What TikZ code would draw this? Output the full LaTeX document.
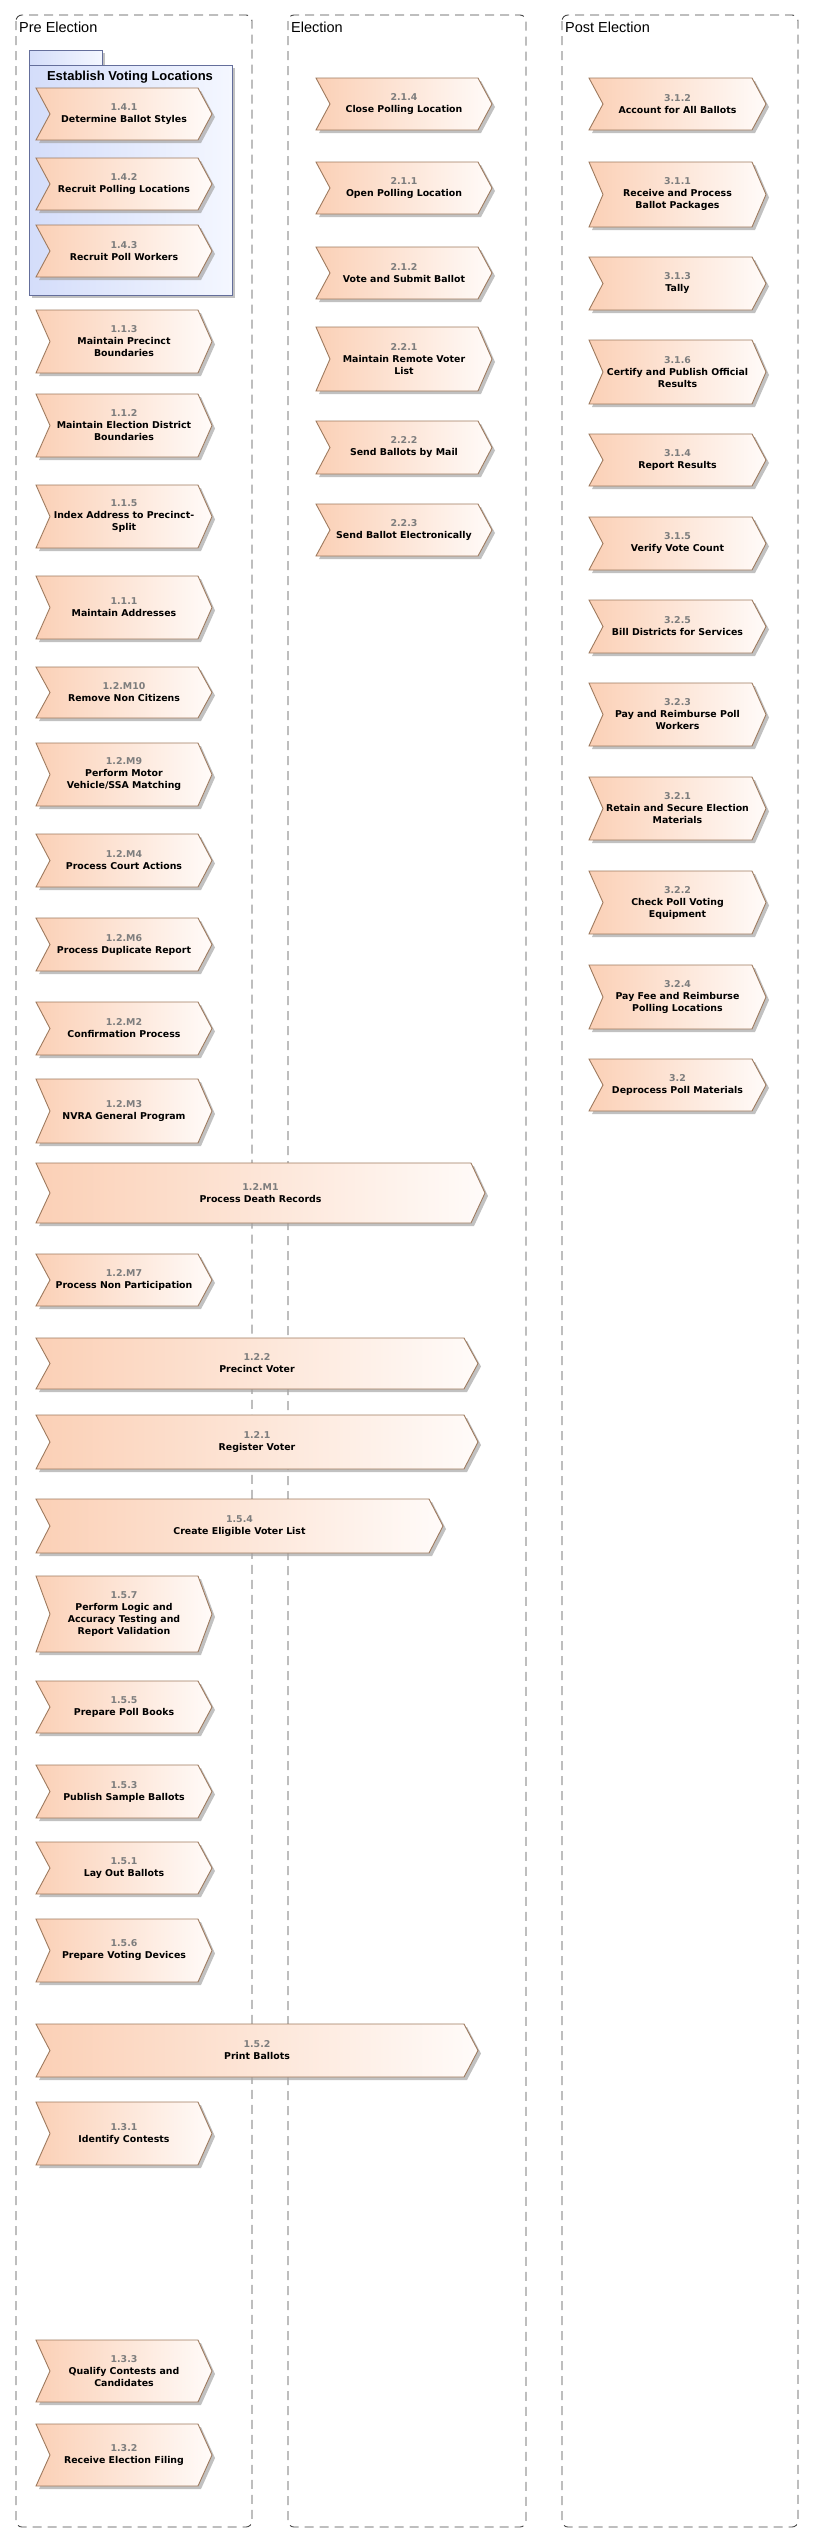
\documentclass[tikz,border=0pt]{standalone}
\usepackage{fontspec}
\newfontfamily\chevfont{DejaVu Sans}
\newfontfamily\lanefont{Liberation Sans}

\definecolor{chevpeach}{RGB}{251,208,182}
\definecolor{chevwhite}{RGB}{255,251,249}
\definecolor{chevline}{RGB}{158,122,94}
\definecolor{numgray}{RGB}{125,125,125}
\definecolor{pkgblue}{RGB}{212,221,250}
\definecolor{pkglight}{RGB}{244,247,255}
\definecolor{pkgline}{RGB}{100,110,155}
\definecolor{laneline}{RGB}{70,70,70}

\tikzset{
  chevbox/.style={draw=chevline, line width=0.9pt, left color=chevpeach, right color=chevwhite},
  chevshadow/.style={fill=black!35, opacity=0.7},
  chevtext/.style={align=center, inner sep=0pt, font=\chevfont\bfseries\fontsize{9.4}{12}\selectfont},
  lane/.style={draw=laneline, line width=0.9pt, dash pattern=on 9pt off 6pt, rounded corners=6pt},
  lanetitle/.style={anchor=base west, inner sep=0pt, font=\lanefont\fontsize{14.5}{17}\selectfont},
  pkgbox/.style={draw=pkgline, line width=0.8pt, shading=axis, shading angle=45, left color=pkgblue, right color=pkglight},
}

% name, left, right, top, bottom, number, label
\newcommand{\chevproc}[7]{%
  \fill [chevshadow, shift={(3,3)}] (#2,#4) -- ({#3-14},#4) -- (#3,{(#4+#5)/2}) -- ({#3-14},#5) -- (#2,#5) -- ({#2+14},{(#4+#5)/2}) -- cycle;
  \draw [chevbox] (#2,#4) -- ({#3-14},#4) -- (#3,{(#4+#5)/2}) -- ({#3-14},#5) -- (#2,#5) -- ({#2+14},{(#4+#5)/2}) -- cycle;
  \node [chevtext] (#1) at ({(#2+#3)/2},{(#4+#5)/2}) {{\color{numgray}#6}\\#7};
}

\begin{document}
\begin{tikzpicture}[x=1pt, y=-1pt]
      \useasboundingbox (0,0) rectangle (814,2543);
      % lanes
      \draw [lane] (16,15) rectangle (252,2527);
      \draw [lane] (288,15) rectangle (526,2527);
      \draw [lane] (562,15) rectangle (798,2527);
      \node [lanetitle] (preti) at (19,32) {Pre Election};
      \node [lanetitle] (electi) at (291,32) {Election};
      \node [lanetitle] (postti) at (565,32) {Post Election};
      % package
      \fill [chevshadow] (32,53) rectangle (105,68);
      \fill [chevshadow] (32,68) rectangle (235,298);
      \draw [pkgbox] (29,50) rectangle (102,65);
      \draw [pkgbox] (29,65) rectangle (232,295);
      \node [anchor=base, inner sep=0pt, font=\lanefont\bfseries\fontsize{13}{15}\selectfont] (pkgti) at (130,80) {Establish Voting Locations};
      % Pre Election
      \chevproc{a141}{36}{212}{88}{140}{1.4.1}{Determine Ballot Styles}
      \chevproc{a142}{36}{212}{158}{210}{1.4.2}{Recruit Polling Locations}
      \chevproc{a143}{36}{212}{225}{277}{1.4.3}{Recruit Poll Workers}
      \chevproc{a113}{36}{212}{310}{373}{1.1.3}{Maintain Precinct\\Boundaries}
      \chevproc{a112}{36}{212}{394}{457}{1.1.2}{Maintain Election District\\Boundaries}
      \chevproc{a115}{36}{212}{485}{548}{1.1.5}{Index Address to Precinct-\\Split}
      \chevproc{a111}{36}{212}{576}{639}{1.1.1}{Maintain Addresses}
      \chevproc{a12M10}{36}{212}{667}{718}{1.2.M10}{Remove Non Citizens}
      \chevproc{a12M9}{36}{212}{743}{806}{1.2.M9}{Perform Motor\\Vehicle/SSA Matching}
      \chevproc{a12M4}{36}{212}{834}{887}{1.2.M4}{Process Court Actions}
      \chevproc{a12M6}{36}{212}{918}{971}{1.2.M6}{Process Duplicate Report}
      \chevproc{a12M2}{36}{212}{1002}{1055}{1.2.M2}{Confirmation Process}
      \chevproc{a12M3}{36}{212}{1079}{1143}{1.2.M3}{NVRA General Program}
      \chevproc{a12M1}{36}{485}{1163}{1223}{1.2.M1}{Process Death Records}
      \chevproc{a12M7}{36}{212}{1254}{1306}{1.2.M7}{Process Non Participation}
      \chevproc{a122}{36}{478}{1338}{1389}{1.2.2}{Precinct Voter}
      \chevproc{a121}{36}{478}{1415}{1469}{1.2.1}{Register Voter}
      \chevproc{a154}{36}{443}{1499}{1553}{1.5.4}{Create Eligible Voter List}
      \chevproc{a157}{36}{212}{1576}{1652}{1.5.7}{Perform Logic and\\Accuracy Testing and\\Report Validation}
      \chevproc{a155}{36}{212}{1681}{1733}{1.5.5}{Prepare Poll Books}
      \chevproc{a153}{36}{212}{1765}{1818}{1.5.3}{Publish Sample Ballots}
      \chevproc{a151}{36}{212}{1842}{1894}{1.5.1}{Lay Out Ballots}
      \chevproc{a156}{36}{212}{1919}{1982}{1.5.6}{Prepare Voting Devices}
      \chevproc{a152}{36}{478}{2024}{2077}{1.5.2}{Print Ballots}
      \chevproc{a131}{36}{212}{2102}{2165}{1.3.1}{Identify Contests}
      \chevproc{a133}{36}{212}{2340}{2402}{1.3.3}{Qualify Contests and\\Candidates}
      \chevproc{a132}{36}{212}{2424}{2486}{1.3.2}{Receive Election Filing}
      % Election
      \chevproc{b214}{316}{492}{78}{130}{2.1.4}{Close Polling Location}
      \chevproc{b211}{316}{492}{162}{214}{2.1.1}{Open Polling Location}
      \chevproc{b212}{316}{492}{247}{299}{2.1.2}{Vote and Submit Ballot}
      \chevproc{b221}{316}{492}{327}{391}{2.2.1}{Maintain Remote Voter\\List}
      \chevproc{b222}{316}{492}{421}{474}{2.2.2}{Send Ballots by Mail}
      \chevproc{b223}{316}{492}{504}{556}{2.2.3}{Send Ballot Electronically}
      % Post Election
      \chevproc{c312}{589}{766}{78}{130}{3.1.2}{Account for All Ballots}
      \chevproc{c311}{589}{766}{162}{227}{3.1.1}{Receive and Process\\Ballot Packages}
      \chevproc{c313}{589}{766}{257}{310}{3.1.3}{Tally}
      \chevproc{c316}{589}{766}{340}{404}{3.1.6}{Certify and Publish Official\\Results}
      \chevproc{c314}{589}{766}{434}{486}{3.1.4}{Report Results}
      \chevproc{c315}{589}{766}{517}{570}{3.1.5}{Verify Vote Count}
      \chevproc{c325}{589}{766}{600}{653}{3.2.5}{Bill Districts for Services}
      \chevproc{c323}{589}{766}{683}{746}{3.2.3}{Pay and Reimburse Poll\\Workers}
      \chevproc{c321}{589}{766}{777}{840}{3.2.1}{Retain and Secure Election\\Materials}
      \chevproc{c322}{589}{766}{871}{934}{3.2.2}{Check Poll Voting\\Equipment}
      \chevproc{c324}{589}{766}{965}{1029}{3.2.4}{Pay Fee and Reimburse\\Polling Locations}
      \chevproc{c32}{589}{766}{1059}{1111}{3.2}{Deprocess Poll Materials}
\end{tikzpicture}
\end{document}
